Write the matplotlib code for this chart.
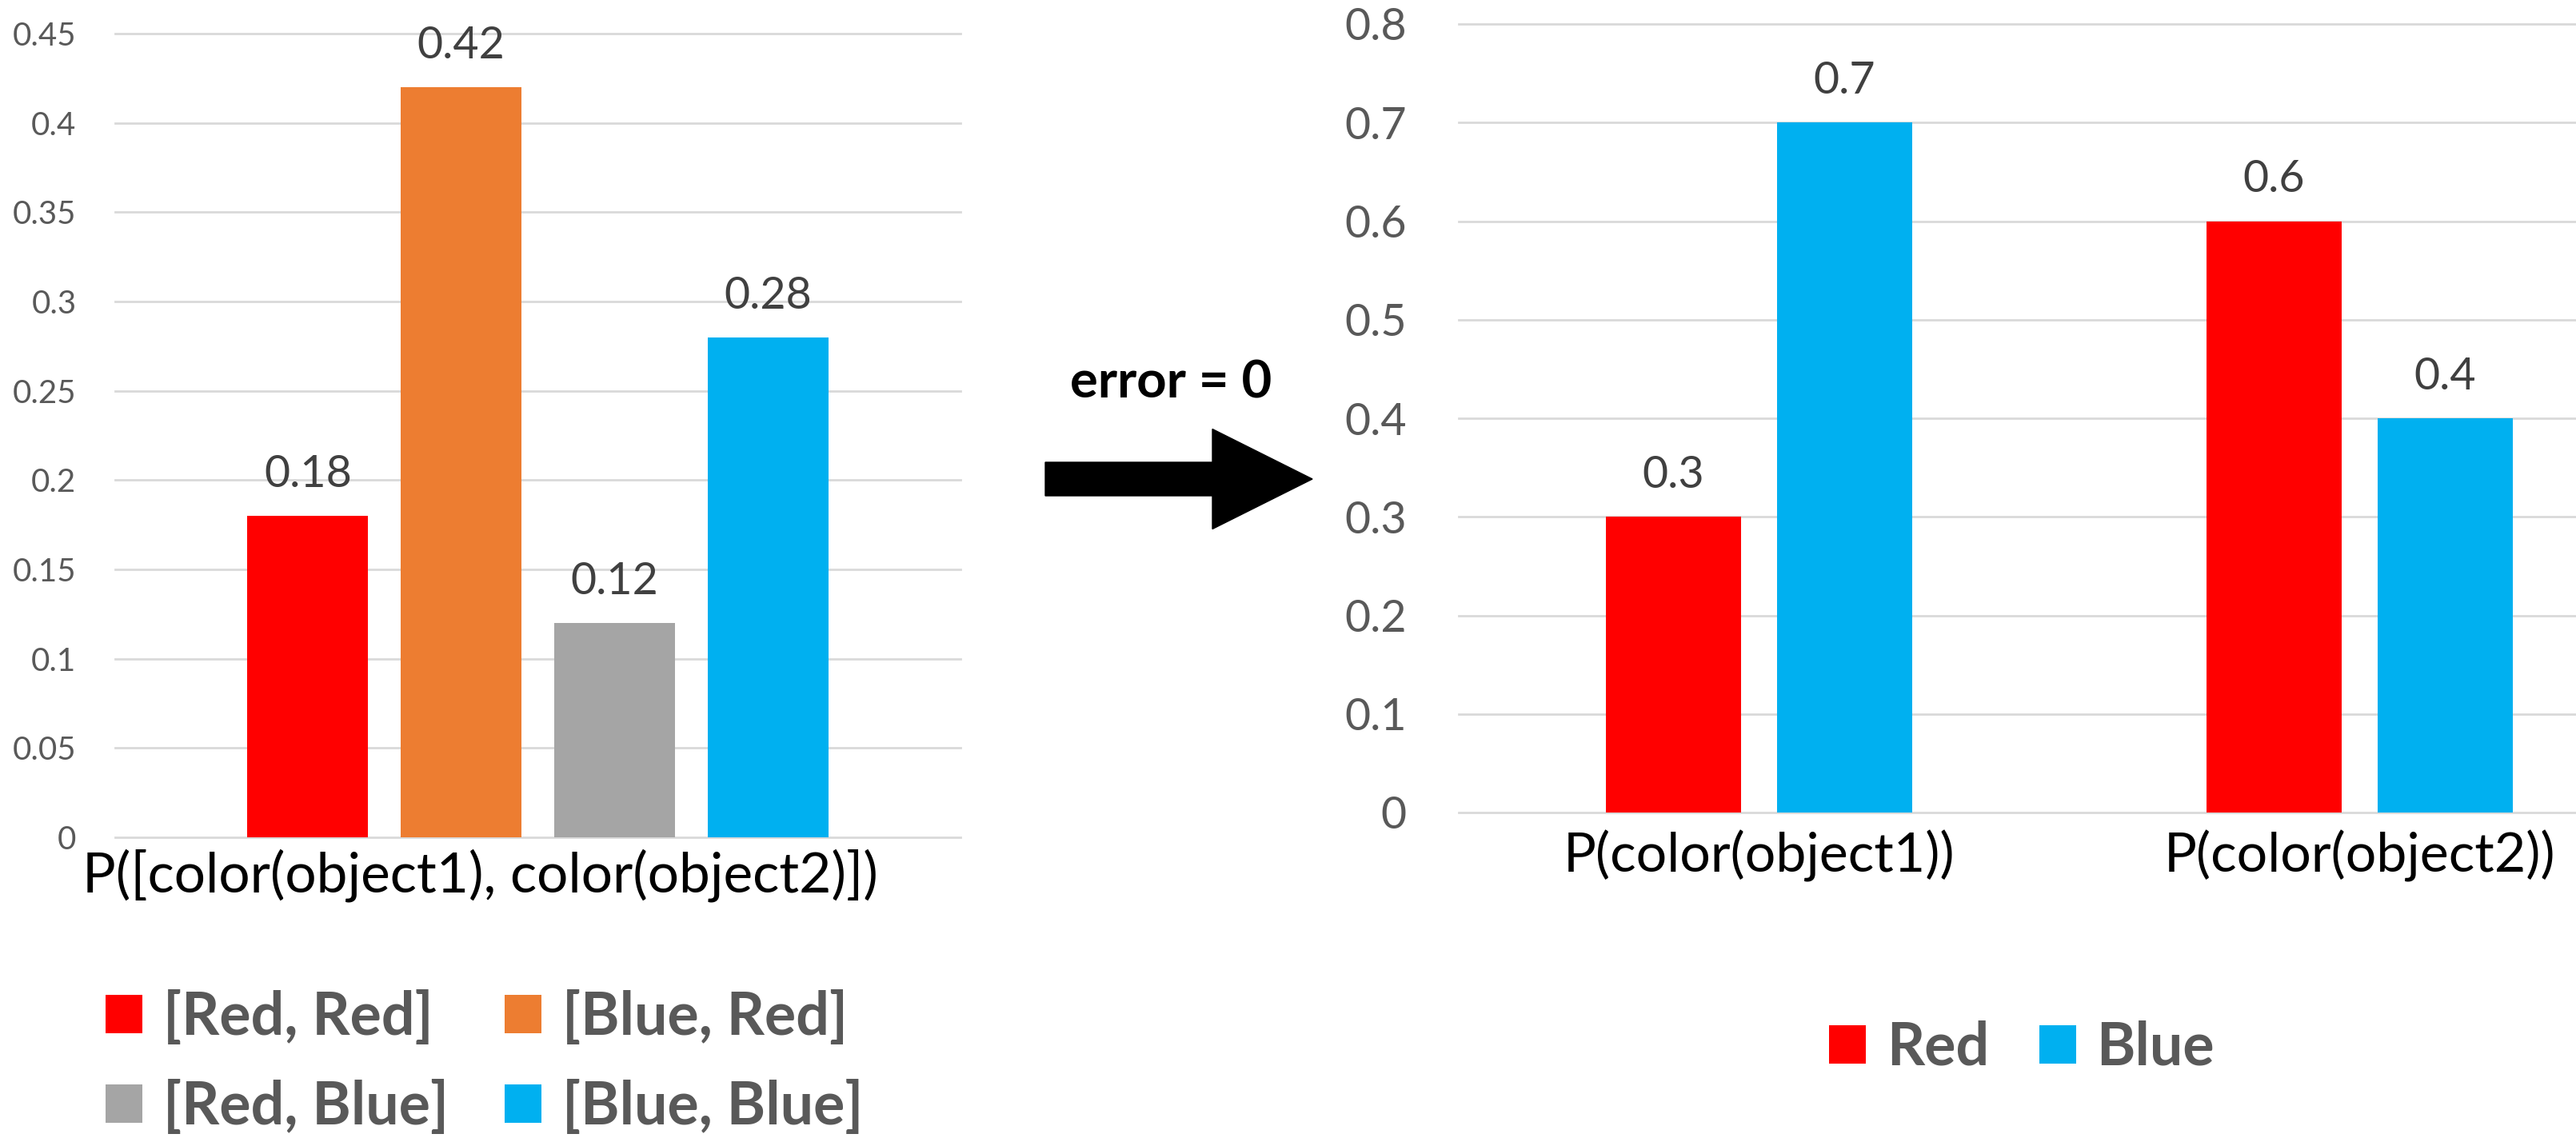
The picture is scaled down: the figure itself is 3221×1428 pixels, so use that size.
import numpy as np
import matplotlib
matplotlib.use('Agg')
import matplotlib.pyplot as plt
from matplotlib.patches import Patch, FancyArrow

plt.rcParams['font.family'] = ['Lato', 'DejaVu Sans']

# left chart: joint distribution
joint_labels = ['[Red, Red]', '[Blue, Red]', '[Red, Blue]', '[Blue, Blue]']
joint_values = [0.18, 0.42, 0.12, 0.28]
joint_category = 'P([color(object1), color(object2)])'
left_ticks = [0, 0.05, 0.1, 0.15, 0.2, 0.25, 0.3, 0.35, 0.4, 0.45]

# right chart: marginals
marg_categories = ['P(color(object1))', 'P(color(object2))']
red_values = [0.3, 0.6]
blue_values = [0.7, 0.4]
right_ticks = [0, 0.1, 0.2, 0.3, 0.4, 0.5, 0.6, 0.7, 0.8]

RED = '#FF0000'
ORANGE = '#ED7D31'
GRAY = '#A5A5A5'
BLUE = '#00B0F0'
joint_colors = [RED, ORANGE, GRAY, BLUE]

TICK_C = '#595959'
LABEL_C = '#404040'
GRID_C = '#D9D9D9'

W, H = 3221, 1428
fig = plt.figure(figsize=(W / 100, H / 100), dpi=100)


def style_axes(ax, ticks, tick_size, pad):
    for s in ax.spines.values():
        s.set_visible(False)
    ax.set_yticks(ticks)
    ax.set_yticklabels(['%g' % round(t, 2) for t in ticks])
    ax.tick_params(axis='y', length=0, pad=pad, labelsize=tick_size, labelcolor=TICK_C)
    ax.yaxis.grid(True, color=GRID_C, linewidth=2.0)
    ax.set_axisbelow(True)
    for ln in ax.get_ygridlines():
        ln.set_clip_on(False)


# ---- left chart
axl = fig.add_axes([144 / W, 1 - 1047 / H, (1201 - 144) / W, (1047 - 42) / H])
step = 191.7 / 1057
bw = 151 / 1057
xs = (np.arange(len(joint_values)) - 1.5) * step
bars = axl.bar(xs, joint_values, width=bw, color=joint_colors, linewidth=0)
axl.set_xlim(-0.5, 0.5)
axl.set_ylim(0, 0.45)
style_axes(axl, left_ticks, 29, 35)
axl.set_xticks([])
for x, v in zip(xs, joint_values):
    axl.annotate('%g' % v, (x, v), xytext=(0, 26), textcoords='offset points',
                 ha='center', va='baseline', fontsize=40, color=LABEL_C)
axl.text(-(144 - 103) / 1057, -(1116 - 1047) / 1005, joint_category,
         transform=axl.transAxes, ha='left', va='baseline', fontsize=50, color='black')

handles = [Patch(facecolor=c, edgecolor='none') for c in joint_colors]
order = [0, 2, 1, 3]
legl = fig.legend([handles[i] for i in order], [joint_labels[i] for i in order],
                  ncol=2, loc='upper left', bbox_to_anchor=(132 / W, 1 - 1238 / H),
                  frameon=False, borderpad=0, borderaxespad=0,
                  handlelength=0.625, handleheight=0.625, handletextpad=0.35,
                  columnspacing=0.95, labelspacing=0.58,
                  prop={'size': 53, 'weight': 'bold'})
for t in legl.get_texts():
    t.set_color(TICK_C)

# ---- arrow and note
fig.text(1464 / W, 1 - 497 / H, 'error = 0', ha='center', va='baseline',
         fontsize=47, fontweight='bold', color='black')
fig.patches.append(FancyArrow(13.07, (H - 599) / 100, 3.34, 0, width=0.42,
                              head_width=1.25, head_length=1.25,
                              length_includes_head=True, color='black',
                              transform=fig.dpi_scale_trans, figure=fig))

# ---- right chart
axr = fig.add_axes([1824 / W, 1 - 1016 / H, 1502 / W, (1016 - 30) / H])
xr = np.arange(len(marg_categories))
off = 107 / 751
bwr = 169 / 751
axr.bar(xr - off, red_values, width=bwr, color=RED, linewidth=0, label='Red')
axr.bar(xr + off, blue_values, width=bwr, color=BLUE, linewidth=0, label='Blue')
axr.set_xlim(-0.5, 1.5)
axr.set_ylim(0, 0.8)
style_axes(axr, right_ticks, 40, 47)
axr.set_xticks(xr)
axr.set_xticklabels(marg_categories)
axr.tick_params(axis='x', length=0, pad=16, labelsize=49, labelcolor='black')
for x, v in zip(xr - off, red_values):
    axr.annotate('%g' % v, (x, v), xytext=(0, 26), textcoords='offset points',
                 ha='center', va='baseline', fontsize=40, color=LABEL_C)
for x, v in zip(xr + off, blue_values):
    axr.annotate('%g' % v, (x, v), xytext=(0, 26), textcoords='offset points',
                 ha='center', va='baseline', fontsize=40, color=LABEL_C)

legr = fig.legend(*axr.get_legend_handles_labels(), ncol=2, loc='center left',
                  bbox_to_anchor=(2287 / W, 1 - 1310 / H), frameon=False,
                  borderpad=0, borderaxespad=0,
                  handlelength=0.625, handleheight=0.625, handletextpad=0.35,
                  columnspacing=0.85, prop={'size': 53, 'weight': 'bold'})
for t in legr.get_texts():
    t.set_color(TICK_C)

fig.savefig('out.png', dpi=100)
